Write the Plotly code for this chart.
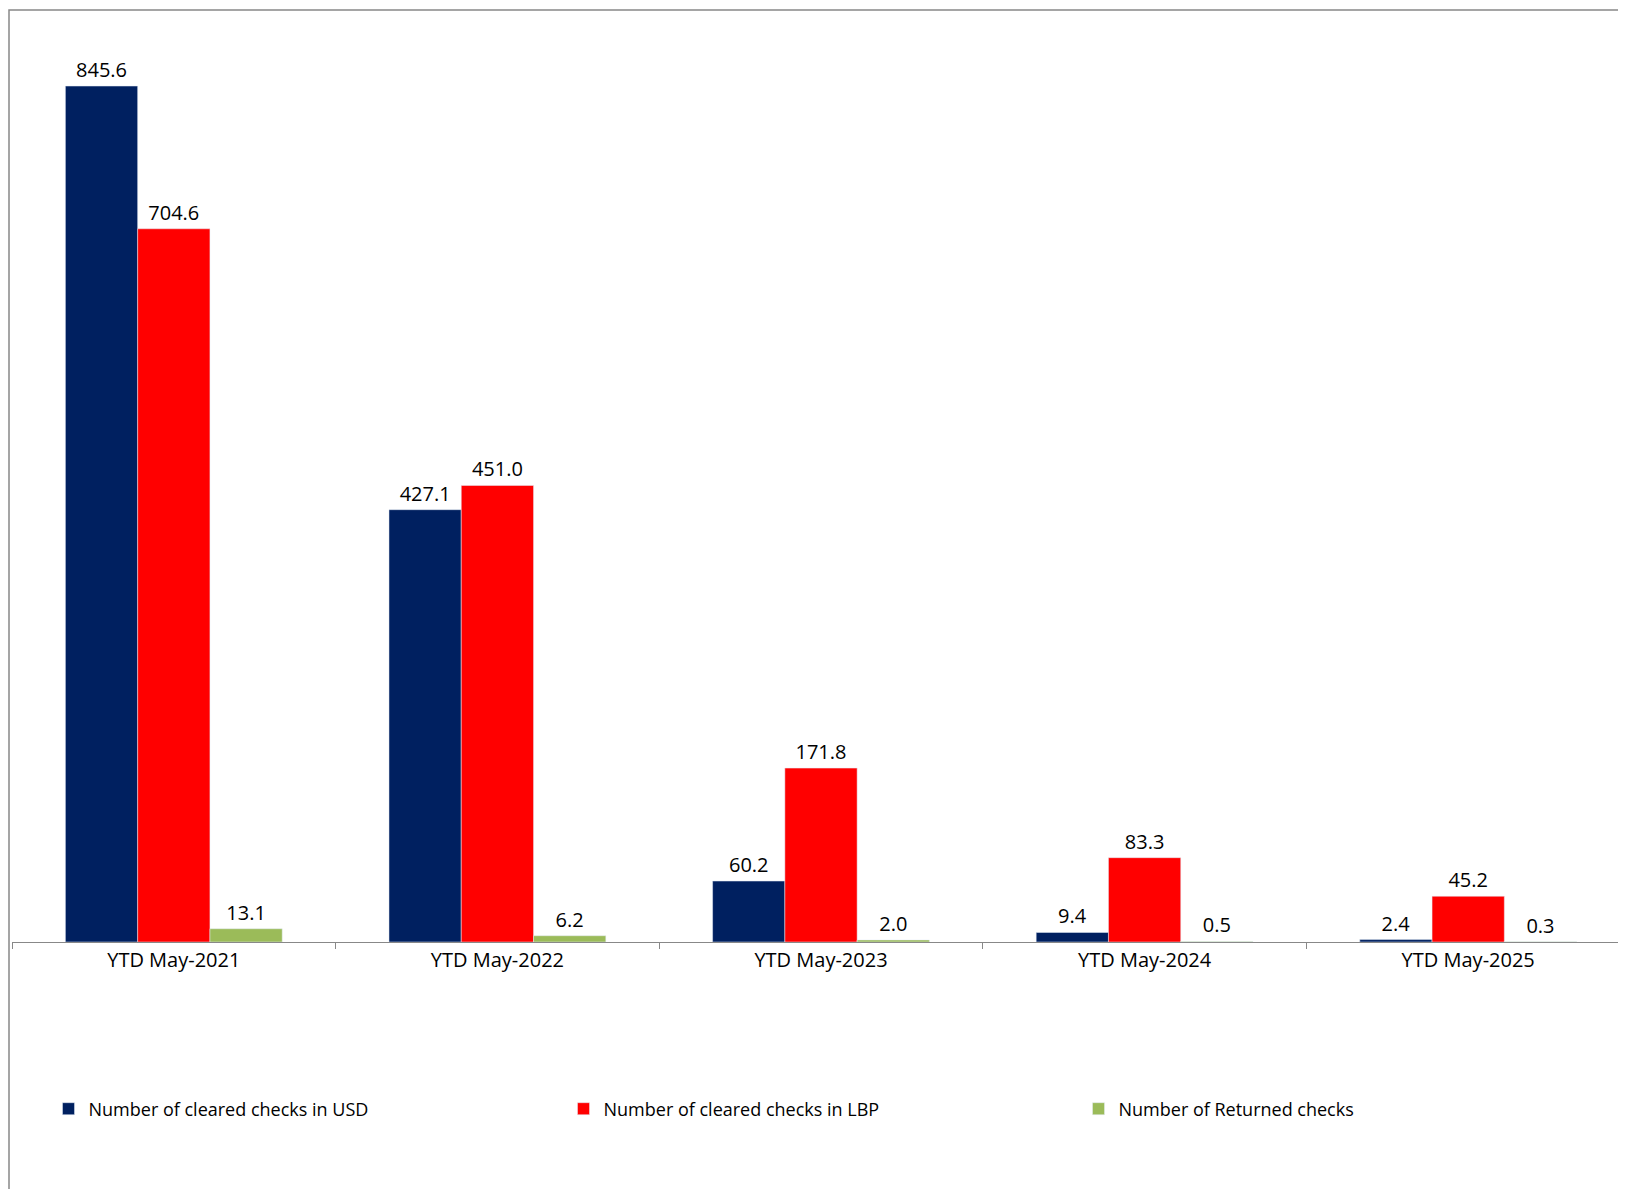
import plotly.graph_objects as go

categories = ["YTD May-2021", "YTD May-2022", "YTD May-2023", "YTD May-2024", "YTD May-2025"]
usd = [845.6, 427.1, 60.2, 9.4, 2.4]
lbp = [704.6, 451.0, 171.8, 83.3, 45.2]
returned = [13.1, 6.2, 2.0, 0.5, 0.3]

series = [
    ("Number of cleared checks in USD", usd, "#002060"),
    ("Number of cleared checks in LBP", lbp, "#FF0000"),
    ("Number of Returned checks", returned, "#9BBB59"),
]

fig = go.Figure()
for name, vals, col in series:
    fig.add_trace(go.Bar(
        x=categories, y=vals, name=name, marker_color=col,
        text=[f"{v:.1f}" for v in vals], textposition="outside",
        textfont=dict(size=20, color="black"), cliponaxis=False,
    ))

H, W = 1189, 1626
mt, mb = 23, 255
ph = H - mt - mb
fig.update_layout(
    width=W, height=H,
    margin=dict(l=4, r=4, t=mt, b=mb),
    barmode="group", bargap=0.33, bargroupgap=0,
    plot_bgcolor="white", paper_bgcolor="white",
    font=dict(family="Open Sans, Liberation Sans, sans-serif", size=19, color="black"),
    showlegend=True,
    legend=dict(orientation="h", x=0.5, xanchor="center", y=-167 / ph, yanchor="middle",
                font=dict(size=18), itemwidth=30, tracegroupgap=0, entrywidth=470),
    xaxis=dict(showline=True, linecolor="#888888", linewidth=1, ticks="outside",
               tickson="boundaries", ticklen=6, tickcolor="#888888", tickfont=dict(size=20)),
    yaxis=dict(range=[0, 900], visible=False),
    shapes=[dict(type="rect", xref="paper", yref="paper",
                 x0=-3 / (W - 8), x1=1 + 3 / (W - 8),
                 y0=-(mb - 2) / ph, y1=1 + (mt - 2) / ph,
                 line=dict(color="#888888", width=1.5))],
)
fig.write_html("out.html")
